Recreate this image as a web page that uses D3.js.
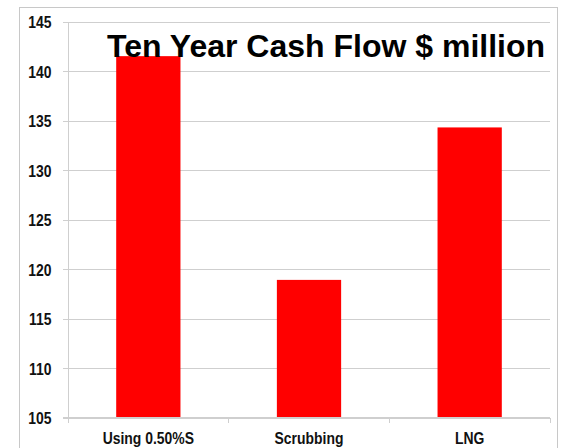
<!DOCTYPE html>
<html>
<head>
<meta charset="utf-8">
<script src="https://cdn.jsdelivr.net/npm/d3@7"></script>
<style>
  html, body { margin: 0; padding: 0; background: #fff; }
  svg { display: block; }
  text { font-family: "Liberation Sans", Arial, sans-serif; font-weight: bold; }
</style>
</head>
<body>
<svg id="chart" width="563" height="448"></svg>
<script>
// Chart data
const categories = ["Using 0.50%S", "Scrubbing", "LNG"];
const cashFlow = [141.5, 118.9, 134.3];
const yTicks = [105, 110, 115, 120, 125, 130, 135, 140, 145];
const titleText = "Ten Year Cash Flow $ million";

const svg = d3.select("#chart");
const plot = { left: 68, right: 550, top: 21.5, bottom: 417.5 };
const gridColor = "#cfcfcf";
const narrow = 0.82;          // horizontal squeeze for the narrow label face
const labelSize = 17;

// Outer frame (runs off the bottom edge)
svg.append("rect")
  .attr("x", 19.5).attr("y", 7.5)
  .attr("width", 538).attr("height", 460)
  .attr("fill", "#fff")
  .attr("stroke", "#c8c8c8").attr("stroke-width", 1);

const x = d3.scaleBand()
  .domain(categories)
  .range([plot.left, plot.right])
  .paddingInner(0.6)
  .paddingOuter(0.3);

const y = d3.scaleLinear()
  .domain([105, 145])
  .range([plot.bottom, plot.top]);

// Horizontal gridlines with left tick labels
const yAxis = d3.axisLeft(y)
  .tickValues(yTicks)
  .tickSize(-(plot.right - plot.left))
  .tickSizeOuter(0)
  .tickFormat(d3.format("d"));

const gY = svg.append("g")
  .attr("transform", `translate(${plot.left},0)`)
  .call(yAxis);
gY.select(".domain").remove();
gY.selectAll(".tick line")
  .attr("x1", -5)
  .attr("stroke", gridColor).attr("stroke-width", 1)
  .attr("shape-rendering", "crispEdges");
gY.selectAll(".tick text")
  .attr("fill", "#111")
  .attr("font-size", labelSize)
  .attr("dy", "0.36em")
  .attr("x", -16.5 / narrow)
  .attr("transform", `scale(${narrow},1)`);

// Vertical axis line
svg.append("line")
  .attr("x1", plot.left).attr("x2", plot.left)
  .attr("y1", plot.top).attr("y2", plot.bottom + 5)
  .attr("stroke", gridColor)
  .attr("shape-rendering", "crispEdges");

// Bars
svg.append("g")
  .selectAll("rect")
  .data(categories.map((c, i) => ({ c, v: cashFlow[i] })))
  .join("rect")
  .attr("x", d => x(d.c))
  .attr("y", d => y(d.v))
  .attr("width", x.bandwidth())
  .attr("height", d => y(105) - y(d.v))
  .attr("fill", "#ff0000");

// Category axis with ticks between groups
const step = x.step();
const bounds = d3.range(categories.length + 1).map(i => plot.left + i * step);
const gX = svg.append("g");
gX.append("line")
  .attr("x1", plot.left - 5).attr("x2", plot.right)
  .attr("y1", plot.bottom).attr("y2", plot.bottom)
  .attr("stroke", gridColor)
  .attr("shape-rendering", "crispEdges");
gX.selectAll("line.sep")
  .data(bounds)
  .join("line")
  .attr("class", "sep")
  .attr("x1", d => d).attr("x2", d => d)
  .attr("y1", plot.bottom).attr("y2", plot.bottom + 5)
  .attr("stroke", gridColor)
  .attr("shape-rendering", "crispEdges");
gX.selectAll("text")
  .data(categories)
  .join("text")
  .attr("transform", d => `translate(${x(d) + x.bandwidth() / 2},444) scale(${narrow},1)`)
  .attr("text-anchor", "middle")
  .attr("font-size", labelSize)
  .attr("fill", "#111")
  .text(d => d);

// Title
svg.append("text")
  .attr("x", 107)
  .attr("y", 57)
  .attr("font-size", 32)
  .attr("fill", "#000")
  .text(titleText);
</script>
</body>
</html>
